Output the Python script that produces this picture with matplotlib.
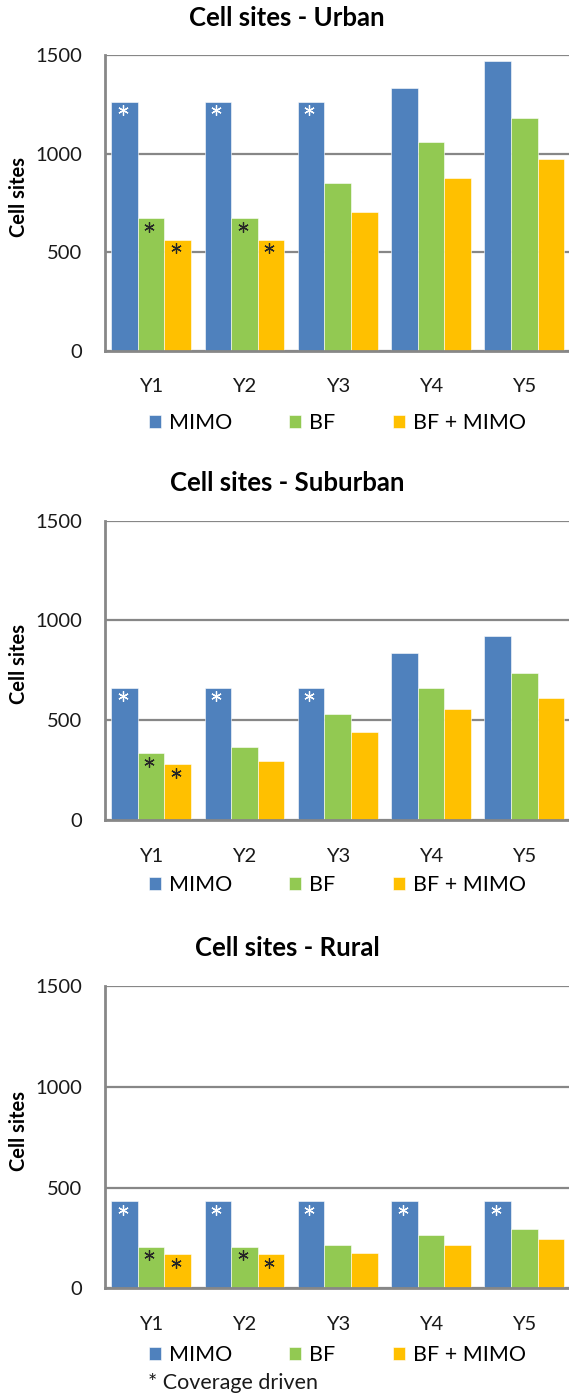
import matplotlib as mpl
mpl.use("Agg")
import matplotlib.pyplot as plt
import matplotlib.transforms as mtransforms
import numpy as np

plt.rcParams['font.family'] = ['Lato', 'DejaVu Sans']

years = ['Y1', 'Y2', 'Y3', 'Y4', 'Y5']
series_names = ['MIMO', 'BF', 'BF + MIMO']
colors = ['#4F81BD', '#92C952', '#FFC000']
star_colors = ['white', '#262626', '#262626']

# cell sites per year, one list per scheme
urban_mimo = [1263, 1263, 1263, 1331, 1471]
urban_bf = [672, 672, 852, 1060, 1182]
urban_bf_mimo = [563, 563, 705, 874, 972]

suburban_mimo = [663, 663, 663, 835, 922]
suburban_bf = [334, 364, 531, 663, 738]
suburban_bf_mimo = [281, 296, 443, 555, 613]

rural_mimo = [433, 433, 433, 433, 433]
rural_bf = [207, 207, 213, 265, 294]
rural_bf_mimo = [170, 170, 177, 213, 243]

# coverage driven years (marked with *)
urban_cov = [[1, 1, 1, 0, 0], [1, 1, 0, 0, 0], [1, 1, 0, 0, 0]]
suburban_cov = [[1, 1, 1, 0, 0], [1, 0, 0, 0, 0], [1, 0, 0, 0, 0]]
rural_cov = [[1, 1, 1, 1, 1], [1, 1, 0, 0, 0], [1, 1, 0, 0, 0]]

panels = [
    ('Cell sites - Urban', [urban_mimo, urban_bf, urban_bf_mimo], urban_cov),
    ('Cell sites - Suburban', [suburban_mimo, suburban_bf, suburban_bf_mimo], suburban_cov),
    ('Cell sites - Rural', [rural_mimo, rural_bf, rural_bf_mimo], rural_cov),
]

W, H = 569, 1400
fig = plt.figure(figsize=(W / 100, H / 100), dpi=100)

# pixel layout: (top of 1500 line, zero line, title y, legend y)
layout = [(55, 350.7, 18, 423), (520.7, 820, 483, 885), (986, 1288.3, 948, 1355)]
ax_left, ax_right = 104.5, 571

bw = 0.285
x = np.arange(len(years))
grid_col = '#878787'

for (title, series, cov), (ytop, ybot, ty, ly) in zip(panels, layout):
    ax = fig.add_axes([ax_left / W, 1 - ybot / H, (ax_right - ax_left) / W, (ybot - ytop) / H])
    bars = []
    for i, (vals, col) in enumerate(zip(series, colors)):
        b = ax.bar(x + (i - 1) * bw, vals, width=bw, color=col, edgecolor='white',
                   linewidth=0.4, label=series_names[i], zorder=3)
        bars.append(b)
        # asterisk just under the top of coverage-driven bars
        off = mtransforms.offset_copy(ax.transData, fig=fig, x=-1.3, y=-6.3, units='points')
        xs = [x[j] + (i - 1) * bw for j in range(len(years)) if cov[i][j]]
        ys = [vals[j] for j in range(len(years)) if cov[i][j]]
        ax.plot(xs, ys, ls='none', marker=(6, 2, 0), ms=7.5, mew=0.9,
                color=star_colors[i], transform=off, zorder=4)

    ax.set_xlim(-0.5, 4.5)
    ax.set_ylim(0, 1500)
    ax.set_yticks([0, 500, 1000, 1500])
    ax.set_xticks(x)
    ax.set_xticklabels(years)
    ax.tick_params(axis='both', length=0, labelsize=14.5, colors='#1a1a1a')
    ax.tick_params(axis='y', pad=16)
    ax.tick_params(axis='x', pad=20)
    ax.grid(axis='y', color=grid_col, linewidth=1.6, zorder=0)
    for s in ['top', 'right']:
        ax.spines[s].set_visible(False)
    for s in ['left', 'bottom']:
        ax.spines[s].set_color(grid_col)
        ax.spines[s].set_linewidth(2.0)
        ax.spines[s].set_zorder(5)

    fig.text(287 / W, 1 - ty / H, title, ha='center', va='center',
             fontsize=18.5, fontweight='bold')
    fig.text(19 / W, 1 - ((ytop + ybot) / 2 - 6) / H, 'Cell sites', rotation=90,
             ha='center', va='center', fontsize=14.5, fontweight='bold')

    fig.legend(handles=bars, labels=series_names, loc='center left',
               bbox_to_anchor=(149 / W, 1 - ly / H), bbox_transform=fig.transFigure,
               ncol=3, frameon=False, fontsize=15.5, borderpad=0, borderaxespad=0,
               handlelength=0.56, handleheight=0.56, handletextpad=0.37,
               columnspacing=2.65)

fig.text(148 / W, 1 - 1383 / H, '* Coverage driven', ha='left', va='center',
         fontsize=15.5, color='#1a1a1a')

fig.savefig('out.png', dpi=100)
